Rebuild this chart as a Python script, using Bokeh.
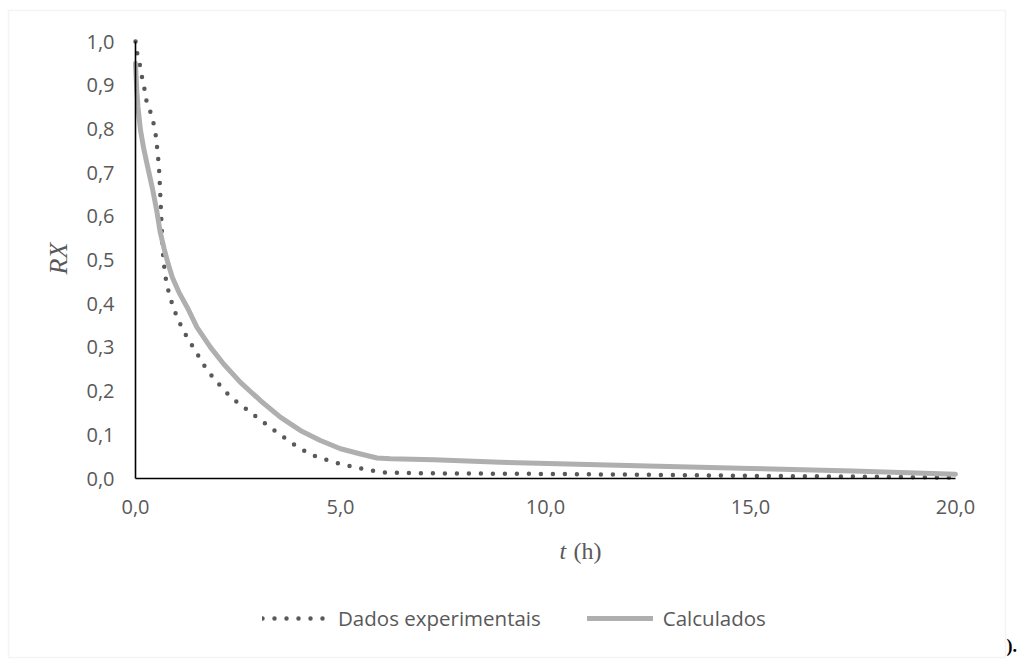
import math
from bokeh.plotting import figure
from bokeh.models import (Range1d, FixedTicker, CustomJSTickFormatter, Label,
                          BoxAnnotation, Legend, LegendItem, LinearAxis)
from bokeh.embed import file_html
from bokeh.resources import INLINE

# ---- data ----
t_exp = [0.0, 0.04, 0.105, 0.16, 0.22, 0.27, 0.37, 0.45, 0.50, 0.53, 0.56, 0.58,
         0.60, 0.62, 0.64, 0.66, 0.70, 0.75, 0.83, 0.92, 1.03, 1.16, 1.30, 1.46,
         1.61, 1.77, 1.97, 2.17, 2.38, 2.62, 2.85, 3.09, 3.33, 3.58, 3.80, 4.07,
         4.32, 4.61, 4.90, 5.20, 5.49, 5.77, 6.06, 7.0, 9.0, 12.0, 15.0, 18.0, 20.0]
rx_exp = [1.000, 0.974, 0.947, 0.918, 0.891, 0.863, 0.837, 0.809, 0.782, 0.754, 0.726, 0.699,
          0.660, 0.615, 0.575, 0.525, 0.485, 0.450, 0.419, 0.392, 0.365, 0.340, 0.316, 0.293,
          0.268, 0.245, 0.223, 0.201, 0.182, 0.165, 0.148, 0.131, 0.114, 0.097, 0.082, 0.066,
          0.053, 0.044, 0.036, 0.029, 0.023, 0.018, 0.014, 0.012, 0.011, 0.009, 0.006, 0.004, 0.002]

t_calc = [0.0, 0.03, 0.06, 0.12, 0.20, 0.29, 0.41, 0.52, 0.60, 0.70, 0.80, 0.90,
          1.06, 1.26, 1.50, 1.83, 2.15, 2.56, 3.05, 3.54, 4.02, 4.51, 5.00, 5.49,
          5.89, 6.22, 7.28, 8.90, 12.0, 15.0, 17.5, 20.0]
rx_calc = [0.950, 0.890, 0.850, 0.798, 0.755, 0.716, 0.665, 0.612, 0.565, 0.525, 0.490, 0.460,
           0.426, 0.392, 0.346, 0.300, 0.262, 0.220, 0.178, 0.140, 0.110, 0.087, 0.068, 0.056,
           0.047, 0.045, 0.043, 0.037, 0.030, 0.023, 0.017, 0.010]

x_ticks = [0, 5, 10, 15, 20]
y_ticks = [0.0, 0.1, 0.2, 0.3, 0.4, 0.5, 0.6, 0.7, 0.8, 0.9, 1.0]
series_names = ["Dados experimentais", "Calculados"]
x_title_italic = "t"
x_title_rest = "(h)"
y_title = "RX"

TICK_COLOR = "#595959"
W, H = 1024, 659

# page-pixel layout of the data area (t: 0..20, RX: 0..1)
PX_LEFT, PX_RIGHT, PX_TOP, PX_BOTTOM = 135, 955, 41, 478
sx = (PX_RIGHT - PX_LEFT) / 20.0
sy = (PX_BOTTOM - PX_TOP) / 1.0


def cx(px):
    return (px - PX_LEFT) / sx


def cy(py):
    return (PX_BOTTOM - py) / sy


p = figure(width=W, height=H, output_backend="svg", toolbar_location=None,
           x_range=Range1d(cx(0), cx(W)), y_range=Range1d(cy(H), cy(0)),
           x_axis_location=None, y_axis_location=None,
           min_border=0, min_border_left=0, min_border_right=0,
           min_border_top=0, min_border_bottom=0)
p.background_fill_color = "white"
p.border_fill_color = "white"
p.outline_line_color = None
p.grid.visible = False

fmt = CustomJSTickFormatter(code="return tick.toFixed(1).replace('.', ',');")
xaxis = LinearAxis(fixed_location=0, bounds=(0, 20), ticker=FixedTicker(ticks=x_ticks),
                   formatter=fmt)
yaxis = LinearAxis(fixed_location=0, bounds=(0, 1), ticker=FixedTicker(ticks=y_ticks),
                   formatter=fmt)
for ax in (xaxis, yaxis):
    ax.axis_line_color = "black"
    ax.axis_line_width = 1.6
    ax.major_tick_line_color = None
    ax.minor_tick_line_color = None
    ax.major_tick_out = 0
    ax.major_tick_in = 0
    ax.minor_tick_out = 0
    ax.minor_tick_in = 0
    ax.major_label_text_color = TICK_COLOR
    ax.major_label_text_font = "Open Sans"
    ax.major_label_text_font_size = "20px"
yaxis.major_label_standoff = 21
xaxis.major_label_standoff = 21
p.add_layout(xaxis, "below")
p.add_layout(yaxis, "left")

r_exp = p.line(t_exp, rx_exp, line_color="#595959", line_width=4.5,
               line_dash="0 12", line_cap="round", line_join="round")
r_calc = p.line(t_calc, rx_calc, line_color="#afafaf", line_width=5,
                line_cap="round", line_join="round")

legend = Legend(items=[LegendItem(label=series_names[0], renderers=[r_exp]),
                       LegendItem(label=series_names[1], renderers=[r_calc])],
                orientation="horizontal", location=(262, H - 632),
                glyph_width=66, glyph_height=20, label_standoff=10, spacing=46,
                padding=0, margin=0, border_line_color=None,
                background_fill_alpha=0,
                label_text_font="Open Sans", label_text_font_size="20.5px",
                label_text_color=TICK_COLOR)
p.add_layout(legend)

# chart-area border
p.add_layout(BoxAnnotation(left=cx(8), right=cx(1005), top=cy(10), bottom=cy(657),
                           fill_alpha=0, line_color="#d9d9d9", line_width=1.5))

# axis titles
p.add_layout(Label(x=cx(58), y=cy(258), text=y_title, angle=math.pi / 2,
                   text_font="Liberation Serif", text_font_style="italic",
                   text_font_size="26px", text_align="center", text_baseline="middle",
                   text_color=TICK_COLOR))
p.add_layout(Label(x=cx(559), y=cy(550), text=x_title_italic,
                   text_font="Liberation Serif", text_font_style="italic",
                   text_font_size="24px", text_align="left", text_baseline="middle",
                   text_color=TICK_COLOR))
p.add_layout(Label(x=cx(573), y=cy(550), text=x_title_rest,
                   text_font="Liberation Serif", text_font_size="24px",
                   text_align="left", text_baseline="middle", text_color=TICK_COLOR))
p.add_layout(Label(x=cx(1006), y=cy(645), text=").",
                   text_font="Liberation Serif", text_font_style="bold",
                   text_font_size="18px", text_align="left", text_baseline="alphabetic",
                   text_color="black"))

open("out.html", "w").write(file_html(p, INLINE))
